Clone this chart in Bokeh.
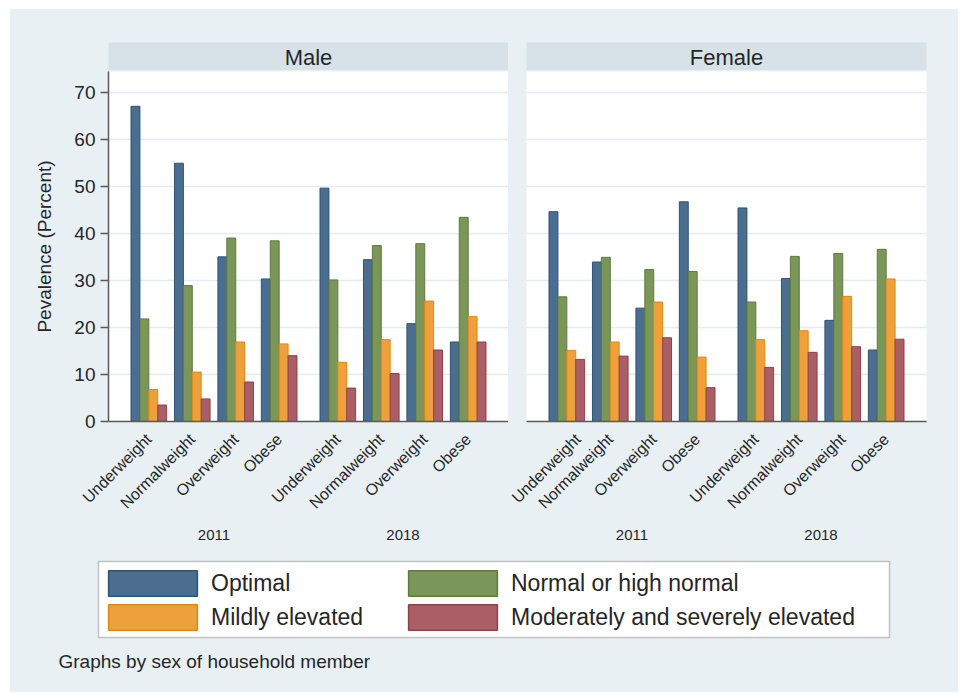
import math
from bokeh.plotting import figure
from bokeh.models import (FactorRange, Range1d, ColumnDataSource, FixedTicker, Legend,
                          LegendItem, Label, Grid, BoxAnnotation)
from bokeh.layouts import column, row
from bokeh.transform import dodge
from bokeh.core.properties import value
from bokeh.embed import file_html
from bokeh.resources import INLINE

# ---------------- data ----------------
years = ["2011", "2018"]
bmi_groups = ["Underweight", "Normalweight", "Overweight", "Obese"]
series_names = ["Optimal", "Normal or high normal", "Mildly elevated",
                "Moderately and severely elevated"]
panel_names = ["Male", "Female"]
y_ticks = [0, 10, 20, 30, 40, 50, 60, 70]

# order: 2011 Under, Normal, Over, Obese, 2018 Under, Normal, Over, Obese
male_optimal = [67.0, 54.9, 35.0, 30.3, 49.6, 34.4, 20.8, 16.9]
male_normal = [21.8, 28.9, 39.0, 38.4, 30.1, 37.4, 37.8, 43.4]
male_mild = [6.8, 10.5, 16.9, 16.5, 12.6, 17.4, 25.6, 22.3]
male_moderate = [3.5, 4.8, 8.4, 14.0, 7.1, 10.2, 15.2, 16.9]

female_optimal = [44.6, 33.9, 24.1, 46.7, 45.4, 30.4, 21.5, 15.2]
female_normal = [26.5, 34.9, 32.3, 31.9, 25.4, 35.1, 35.7, 36.6]
female_mild = [15.1, 16.9, 25.4, 13.7, 17.4, 19.3, 26.6, 30.3]
female_moderate = [13.2, 13.9, 17.8, 7.2, 11.5, 14.7, 15.9, 17.5]

footnote = "Graphs by sex of household member"

# ---------------- style ----------------
BG = "#e8f0f3"
HEADER = "#d6e2e8"
GRID = "#e4edf1"
AXIS = "#5a5a5a"
TEXT = "#262626"
FONT = "Liberation Sans"
FILLS = ["#4b6d8f", "#7a9659", "#eda03c", "#aa5f66"]
LINES = ["#2c5378", "#5d7b3b", "#e3880f", "#933f47"]

factors = [(y, b) for y in years for b in bmi_groups]
BAR_W = 0.205
offsets = [-1.5 * BAR_W, -0.5 * BAR_W, 0.5 * BAR_W, 1.5 * BAR_W]
keys = ["optimal", "normal", "mild", "moderate"]


def header_fig(name, width, left, right):
    h = figure(width=width, height=61, x_range=Range1d(0, 1), y_range=Range1d(0, 1),
               x_axis_location=None, y_axis_location=None, toolbar_location=None,
               output_backend="svg", min_border_left=left, min_border_right=right,
               min_border_top=33, min_border_bottom=0,
               background_fill_color=HEADER, border_fill_color=BG, outline_line_color=None)
    h.grid.visible = False
    h.text(x=[0.5], y=[0.45], text=[name], text_align="center", text_baseline="middle",
           text_font=value(FONT), text_font_size=value("22px"), text_color=TEXT)
    return h


def panel_fig(name, series_lists, show_y):
    fr = FactorRange(factors=factors, factor_padding=0.0, group_padding=0.35,
                     range_padding=0.428, range_padding_units="absolute")
    width = 498 if show_y else 450
    p = figure(width=width, height=478, x_range=fr, y_range=Range1d(0, 74.4),
               toolbar_location=None, output_backend="svg",
               y_axis_location="left" if show_y else None,
               min_border_left=98 if show_y else 18,
               min_border_right=0 if show_y else 32,
               min_border_top=1, min_border_bottom=127,
               background_fill_color="white", border_fill_color=BG,
               outline_line_color=None)
    src = ColumnDataSource(dict(x=factors, **{k: v for k, v in zip(keys, series_lists)}))
    for k, off, fc, lc in zip(keys, offsets, FILLS, LINES):
        p.vbar(x=dodge("x", off, range=fr), top=k, width=BAR_W, source=src,
               fill_color=fc, line_color=lc, line_width=1)

    p.xgrid.visible = False
    if show_y:
        p.yaxis.ticker = FixedTicker(ticks=y_ticks)
        p.yaxis.axis_label = "Pevalence (Percent)"
        p.yaxis.axis_label_text_font = FONT
        p.yaxis.axis_label_text_font_size = "19px"
        p.yaxis.axis_label_text_font_style = "normal"
        p.yaxis.axis_label_text_color = TEXT
        p.yaxis.axis_label_standoff = 16
        p.yaxis.major_label_text_font = FONT
        p.yaxis.major_label_text_font_size = "19px"
        p.yaxis.major_label_text_color = TEXT
        p.yaxis.major_label_standoff = 5
        p.yaxis.axis_line_color = AXIS
        p.yaxis.axis_line_width = 1.5
        p.yaxis.major_tick_line_color = AXIS
        p.yaxis.major_tick_line_width = 1.5
        p.yaxis.major_tick_out = 8
        p.yaxis.major_tick_in = 0
        p.yaxis.minor_tick_line_color = None
        p.ygrid.grid_line_color = GRID
        p.ygrid.grid_line_width = 1.5
    else:
        g = Grid(dimension=1, ticker=FixedTicker(ticks=y_ticks),
                 grid_line_color=GRID, grid_line_width=1.5)
        p.add_layout(g)

    ax = p.xaxis[0]
    ax.axis_line_color = AXIS
    ax.axis_line_width = 1.5
    ax.major_tick_line_color = None
    ax.minor_tick_line_color = None
    ax.major_label_orientation = math.pi / 4
    ax.major_label_text_font = FONT
    ax.major_label_text_font_size = "16px"
    ax.major_label_text_color = TEXT
    ax.major_label_standoff = 9
    ax.group_text_font = FONT
    ax.group_text_font_size = "15px"
    ax.group_text_font_style = "normal"
    ax.group_text_color = TEXT
    ax.separator_line_color = None
    return p


male_h = header_fig(panel_names[0], 498, 98, 0)
female_h = header_fig(panel_names[1], 450, 18, 32)
male_p = panel_fig(panel_names[0], [male_optimal, male_normal, male_mild, male_moderate], True)
female_p = panel_fig(panel_names[1], [female_optimal, female_normal, female_mild, female_moderate], False)

# ---------------- legend + note ----------------
lf = figure(width=948, height=144, x_range=Range1d(0, 948), y_range=Range1d(0, 144),
            x_axis_location=None, y_axis_location=None, toolbar_location=None,
            output_backend="svg", min_border=0, background_fill_color=BG,
            border_fill_color=BG, outline_line_color=None)
lf.grid.visible = False
box = BoxAnnotation(left=88, right=879, bottom=55, top=131, fill_color="white", fill_alpha=1,
                    line_color="#444444", line_width=1.5)
lf.add_layout(box)

rends = []
for fc, lc in zip(FILLS, LINES):
    rends.append(lf.vbar(x=[400], top=[float("nan")], width=1, fill_color=fc, line_color=lc,
                         line_width=1.5))


def make_legend(idx, loc):
    lg = Legend(items=[LegendItem(label=series_names[i], renderers=[rends[i]]) for i in idx],
                location=loc, orientation="vertical", padding=0, margin=0, spacing=2,
                glyph_width=111, glyph_height=32, label_standoff=3, label_height=32,
                label_text_font=FONT, label_text_font_size="23px", label_text_color=TEXT,
                label_text_baseline="middle",
                background_fill_alpha=0, border_line_color=None)
    return lg


lf.add_layout(make_legend([0, 2], (87, 59)))
lf.add_layout(make_legend([1, 3], (387, 59)))

lf.add_layout(Label(x=48, y=31, text=footnote, text_baseline="middle", text_font=FONT,
                    text_font_size="19px", text_color=TEXT))

inner = row(column(male_h, male_p), column(female_h, female_p),
            styles={"background-color": BG})
layout = column(inner, lf, margin=(9, 0, 0, 10), styles={"background-color": BG})

open("out.html", "w").write(file_html(layout, INLINE))
